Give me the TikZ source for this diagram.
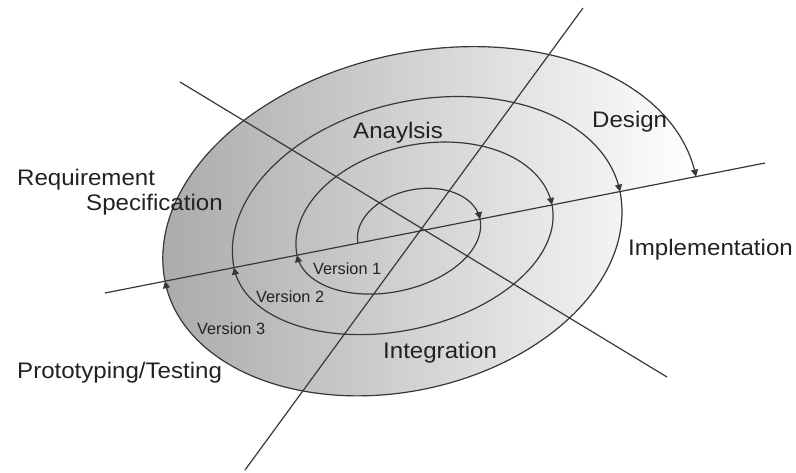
\documentclass[tikz,border=0pt]{standalone}
\usepackage{fontspec}
\setmainfont{Liberation Sans}
\usetikzlibrary{arrows.meta}
\definecolor{ink}{HTML}{383838}
\definecolor{txt}{HTML}{222222}
\newcommand\cth{0.98112}
\newcommand\sth{0.19325}
% half ellipse along the tilted axis: cx, cy, a, b, t0, t1, connector
\newcommand\halfell[7]{#7 plot[domain=#5:#6, samples=120] ({#1+#3*cos(\x)*\cth-#4*sin(\x)*\sth},{#2-#3*cos(\x)*\sth-#4*sin(\x)*\cth})}
\newcommand\wide[1]{\scalebox{1.07}[1]{#1}}
\begin{document}
\begin{tikzpicture}[x=1pt,y=-1pt]
\useasboundingbox (0,0) rectangle (796,472);
\tikzset{
 spiral/.style={draw=ink, line width=1.2pt, -{Triangle[length=7pt,width=7pt]}},
 axisline/.style={draw=ink, line width=1.2pt},
 lbl/.style={text=txt, inner sep=0pt, anchor=base west, font=\fontsize{22.5}{27}\selectfont},
 vlbl/.style={text=txt, inner sep=0pt, anchor=base west, font=\fontsize{16.3}{19}\selectfont},
}
% shaded body
\fill[left color=black!33, middle color=black!9, right color=white]
  \halfell{430.5}{228.9}{270.6}{178}{180}{0}{} \halfell{392.5}{236.4}{231.9}{156}{0}{-180}{--} -- cycle;
% axes
\coordinate (l1a) at (105,293);
\coordinate (l1b) at (765,163);
\coordinate (l2a) at (245,470);
\coordinate (l2b) at (583,8);
\coordinate (l3a) at (180,82);
\coordinate (l3b) at (667,377);
\draw[axisline] (l1a) -- (l1b);
\draw[axisline] (l2a) -- (l2b);
\draw[axisline] (l3a) -- (l3b);
% spiral
\draw[spiral] \halfell{419}{231.2}{62.17}{42}{180}{0}{};
\draw[spiral] \halfell{388.5}{237.2}{93.26}{55}{0}{-180}{};
\draw[spiral] \halfell{424.5}{230.07}{129.95}{86}{180}{0}{};
\draw[spiral] \halfell{393}{236.3}{162.1}{95}{0}{-180}{};
\draw[spiral] \halfell{427}{229.6}{196.7}{130}{180}{0}{};
\draw[spiral] \halfell{392.5}{236.4}{231.9}{156}{0}{-180}{};
\draw[spiral] \halfell{430.5}{228.9}{270.6}{178}{180}{0}{};
% labels
\node[lbl] (req) at (17,185) {\wide{Requirement}};
\node[lbl] (spec) at (86,210) {\wide{Specification}};
\node[lbl] (ana) at (353,138) {\wide{Anaylsis}};
\node[lbl] (des) at (592,127) {\wide{Design}};
\node[lbl] (imp) at (628,255) {\wide{Implementation}};
\node[lbl] (int) at (383,358) {\wide{Integration}};
\node[lbl] (pro) at (17,378) {\wide{Prototyping/Testing}};
\node[vlbl] (v1) at (313,274) {Version 1};
\node[vlbl] (v2) at (256,302) {Version 2};
\node[vlbl] (v3) at (197,334) {Version 3};
\end{tikzpicture}
\end{document}
